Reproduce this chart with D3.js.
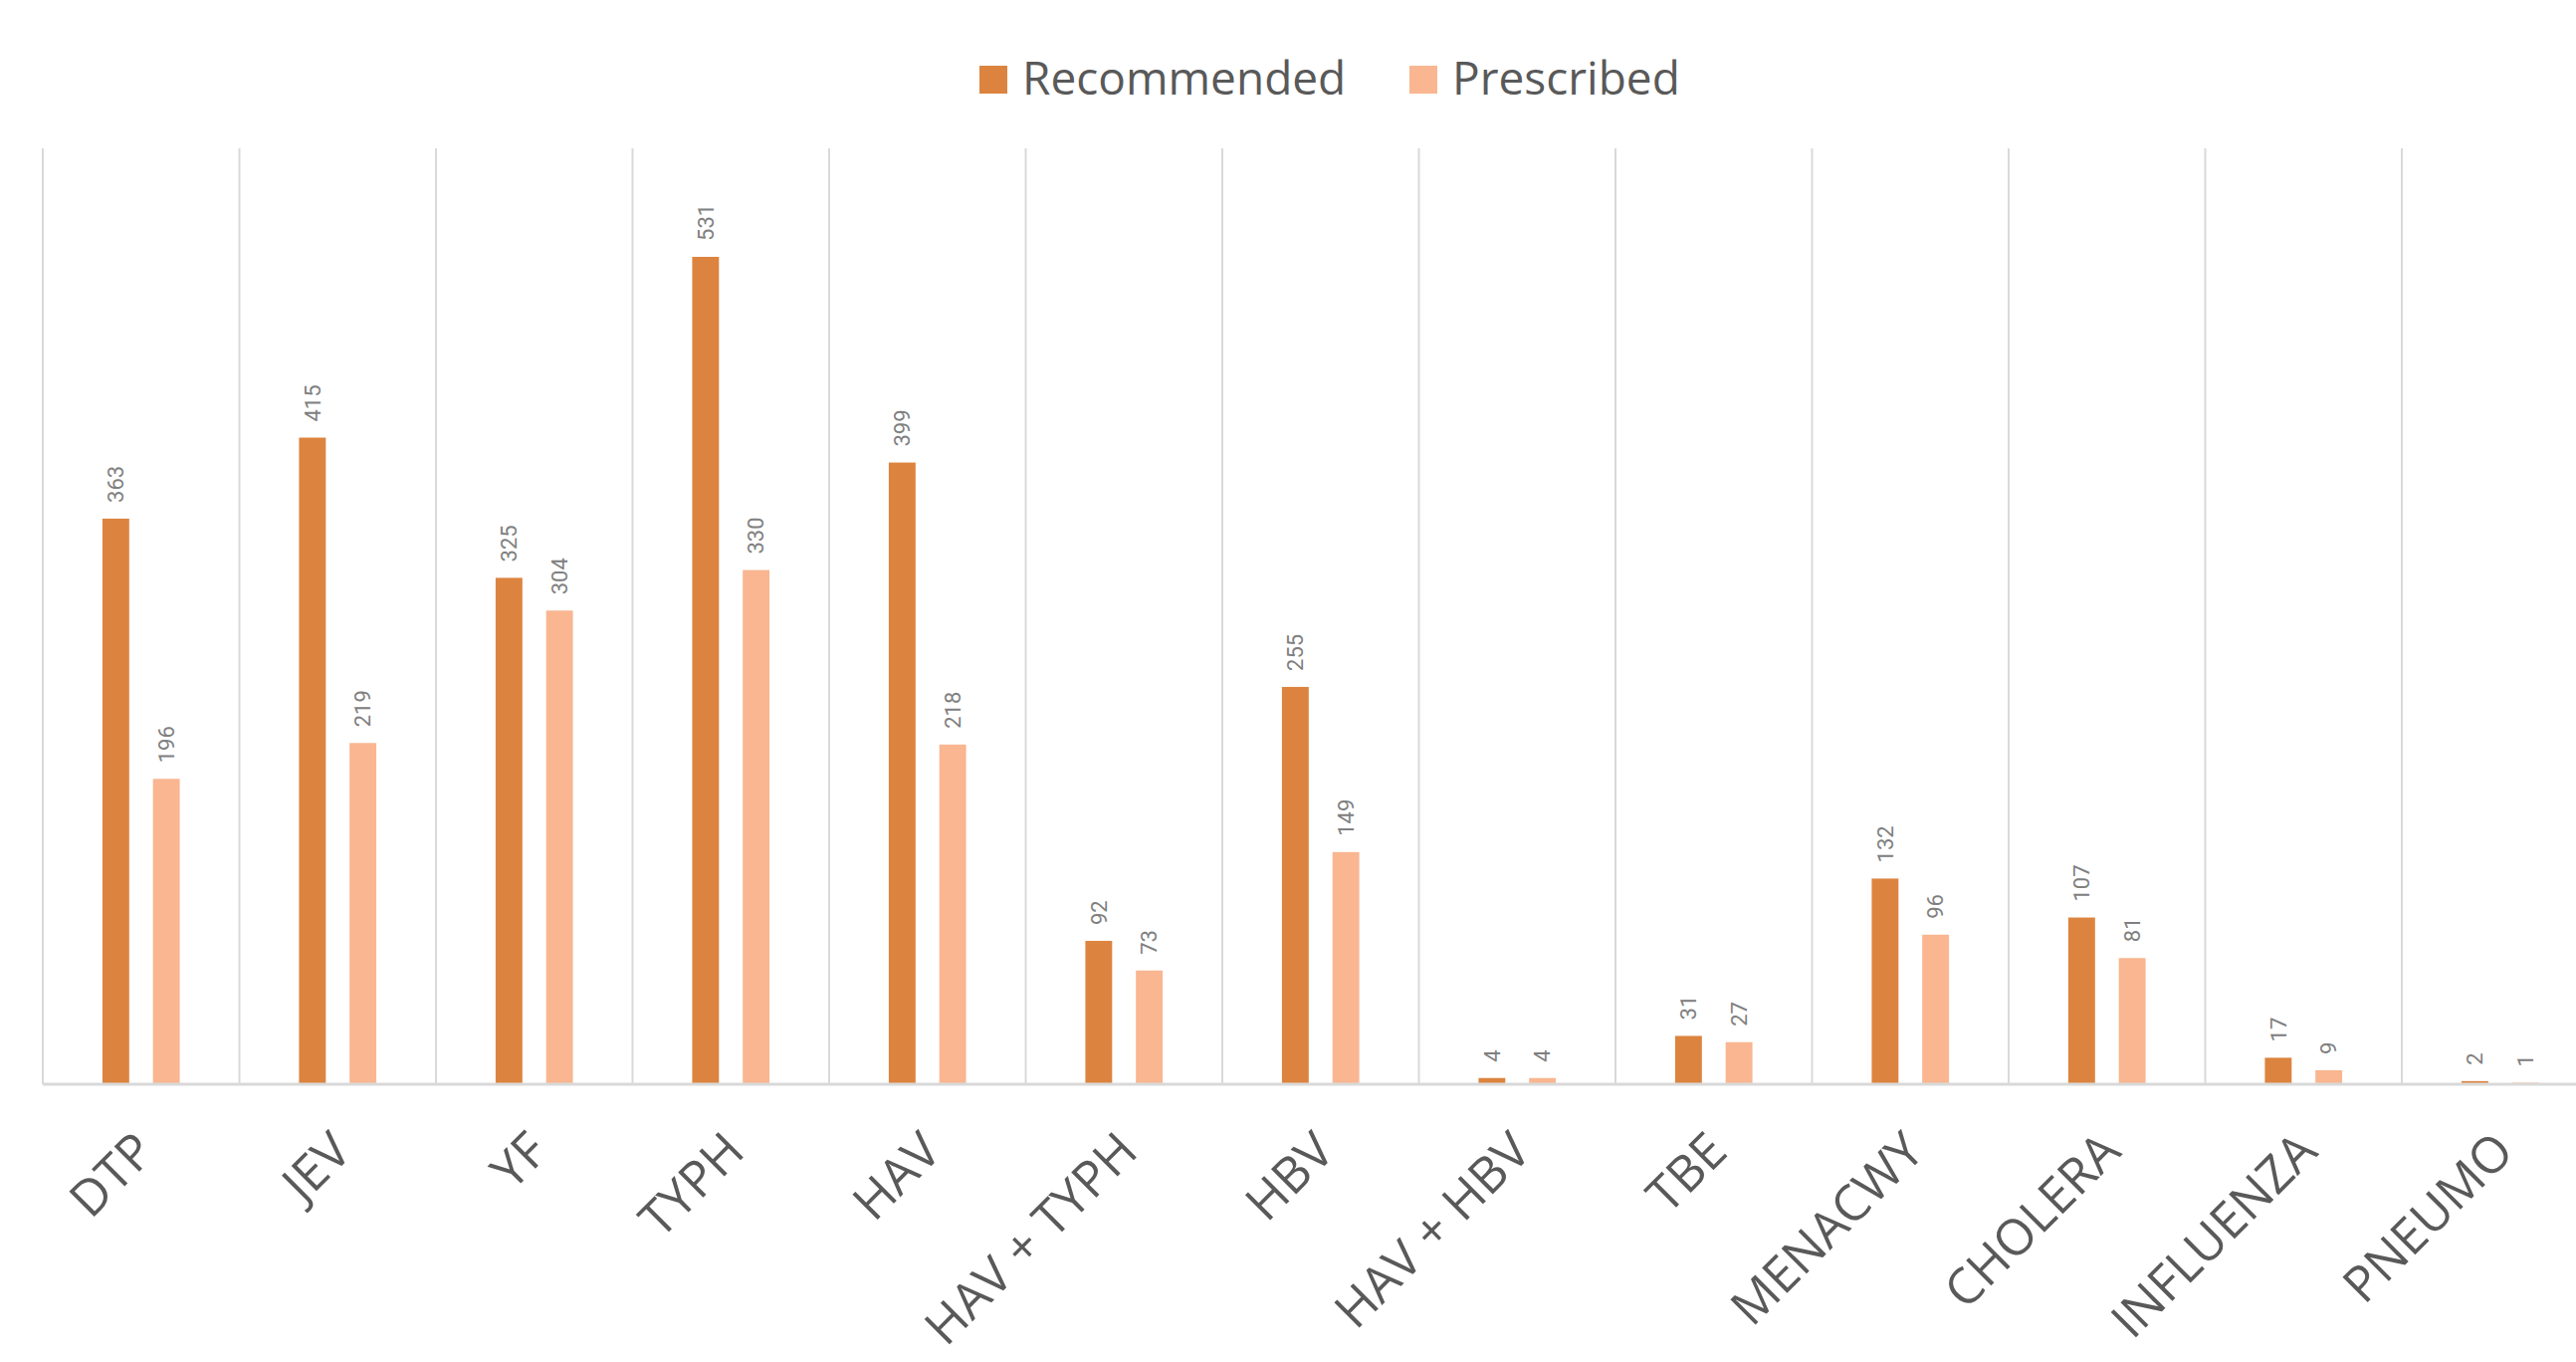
<!DOCTYPE html>
<html>
<head>
<meta charset="utf-8">
<script src="https://cdn.jsdelivr.net/npm/d3@7"></script>
<style>
  body { margin: 0; background: #fff; }
  svg { display: block; }
</style>
</head>
<body>
<svg id="chart"></svg>
<script>
const categories = ["DTP", "JEV", "YF", "TYPH", "HAV", "HAV + TYPH", "HBV", "HAV + HBV", "TBE", "MENACWY", "CHOLERA", "INFLUENZA", "PNEUMO"];
const series = ["Recommended", "Prescribed"];
const recommended = [363, 415, 325, 531, 399, 92, 255, 4, 31, 132, 107, 17, 2];
const prescribed = [196, 219, 304, 330, 218, 73, 149, 4, 27, 96, 81, 9, 1];
const colors = ["#dc843f", "#f9b691"];

const width = 2588, height = 1368;
const plot = { left: 43, top: 150, bottom: 1089, step: 197.5 };

const svg = d3.select("#chart")
    .attr("width", width)
    .attr("height", height);

const rows = categories.map((c, i) => ({
    cat: c,
    values: [
        { key: series[0], value: recommended[i] },
        { key: series[1], value: prescribed[i] }
    ]
}));

const x = d3.scaleBand()
    .domain(categories)
    .range([plot.left, plot.left + plot.step * categories.length])
    .padding(0);

const x1 = d3.scaleBand()
    .domain(series)
    .range([0, x.bandwidth()])
    .paddingInner(0.47)
    .paddingOuter(1.18);

const y = d3.scaleLinear()
    .domain([0, 600])
    .range([plot.bottom, plot.top]);

// vertical gridlines at category boundaries
svg.append("g")
    .selectAll("line")
    .data(categories)
    .join("line")
    .attr("x1", d => x(d))
    .attr("x2", d => x(d))
    .attr("y1", y(600) - 1)
    .attr("y2", plot.bottom)
    .attr("stroke", "#d9d9d9")
    .attr("stroke-width", 2);

const g = svg.append("g")
    .selectAll("g")
    .data(rows)
    .join("g")
    .attr("transform", d => `translate(${x(d.cat)},0)`);

g.selectAll("rect")
    .data(d => d.values)
    .join("rect")
    .attr("x", d => x1(d.key))
    .attr("width", x1.bandwidth())
    .attr("y", d => y(d.value))
    .attr("height", d => y(0) - y(d.value))
    .attr("fill", (d, i) => colors[i]);

g.selectAll("text")
    .data(d => d.values)
    .join("text")
    .attr("transform", d => `translate(${x1(d.key) + x1.bandwidth() / 2},${y(d.value) - 16}) rotate(-90)`)
    .attr("dy", "0.35em")
    .attr("text-anchor", "start")
    .attr("font-family", "'Liberation Sans Narrow', Roboto, sans-serif")
    .attr("font-size", 22)
    .attr("fill", "#808080")
    .text(d => d.value);

// baseline
svg.append("line")
    .attr("x1", plot.left)
    .attr("x2", width)
    .attr("y1", plot.bottom)
    .attr("y2", plot.bottom)
    .attr("stroke", "#d9d9d9")
    .attr("stroke-width", 3);

// category labels
svg.append("g")
    .selectAll("text")
    .data(categories)
    .join("text")
    .attr("transform", d => `translate(${x(d) + x.bandwidth() / 2 + 16},${plot.bottom + 70}) rotate(-45)`)
    .attr("text-anchor", "end")
    .attr("font-family", "'Open Sans', sans-serif")
    .attr("font-size", 50)
    .attr("fill", "#595959")
    .text(d => d);

// legend
const legendX = [984, 1416];
const legend = svg.append("g")
    .selectAll("g")
    .data(series)
    .join("g")
    .attr("transform", (d, i) => `translate(${legendX[i]},66)`);

legend.append("rect")
    .attr("width", 28)
    .attr("height", 28)
    .attr("fill", (d, i) => colors[i]);

legend.append("text")
    .attr("x", 43)
    .attr("y", 29)
    .attr("font-family", "'Open Sans', sans-serif")
    .attr("font-size", 46)
    .attr("fill", "#595959")
    .text(d => d);
</script>
</body>
</html>
